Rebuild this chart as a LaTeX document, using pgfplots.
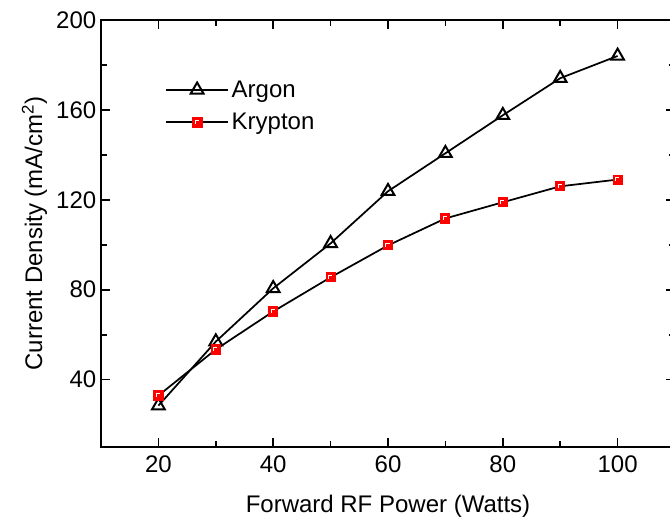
\documentclass[border=0pt]{standalone}
\usepackage{fontspec}
\setmainfont{Liberation Sans}
\usepackage{pgfplots}
\pgfplotsset{compat=1.18}

% red square with the small white corner seen in the reference
\pgfdeclareplotmark{krsq}{%
  \pgfsetfillcolor{red}\pgfsetstrokecolor{red}%
  \pgfpathrectangle{\pgfpoint{-\pgfplotmarksize}{-\pgfplotmarksize}}{\pgfpoint{2\pgfplotmarksize}{2\pgfplotmarksize}}%
  \pgfusepathqfillstroke
  \pgfsetstrokecolor{white}\pgfsetlinewidth{0.7pt}%
  \pgfpathmoveto{\pgfpoint{-0.45\pgfplotmarksize}{-0.3\pgfplotmarksize}}%
  \pgfpathlineto{\pgfpoint{-0.45\pgfplotmarksize}{0.45\pgfplotmarksize}}%
  \pgfpathlineto{\pgfpoint{0.35\pgfplotmarksize}{0.45\pgfplotmarksize}}%
  \pgfusepathqstroke
}

\begin{document}
\begin{tikzpicture}
\begin{axis}[
  scale only axis,
  width=430.5pt, height=320.25pt,
  xmin=10, xmax=110,
  ymin=10, ymax=200,
  xtick={20,40,60,80,100},
  ytick={40,80,120,160,200},
  minor x tick num=1,
  minor y tick num=1,
  tick align=inside,
  major tick length=7pt,
  minor tick length=4.5pt,
  axis line style={line width=1.5pt},
  every tick/.style={black, line width=1.3pt},
  tick label style={font=\fontsize{18}{20}\selectfont},
  xticklabel style={yshift=-3pt},
  /pgf/number format/assume math mode=true,
  label style={font=\fontsize{18}{20}\selectfont},
  xlabel={Forward RF Power (Watts)},
  xlabel style={yshift=-10pt},
  ylabel={Current Density (mA/cm\textsuperscript{2})},
  legend style={draw=none, fill=none, at={(0.1115,0.865)}, anchor=north west,
    font=\fontsize{18}{20}\selectfont, row sep=6.5pt, inner sep=0pt},
  legend cell align=left,
  legend image code/.code={%
    \draw[mark repeat=2,mark phase=2,#1] plot coordinates {(0pt,0pt) (23.25pt,0pt) (46.5pt,0pt)};},
]
\addplot[black, line width=1.3pt, mark=triangle, mark size=5.5pt,
  mark options={solid, line width=1.5pt, fill=white}]
  coordinates {(20,28.4) (30,56.9) (40,80.6) (50,100.6) (60,123.8)
               (70,140.7) (80,157.6) (90,174.1) (100,184)};
\addlegendentry{Argon}
\addplot[black, line width=1.3pt, mark=krsq, mark size=3.4pt]
  coordinates {(20,32.9) (30,53.4) (40,70.3) (50,85.5) (60,99.7)
               (70,111.7) (80,118.9) (90,126) (100,129)};
\addlegendentry{Krypton}
\end{axis}
\pgfresetboundingbox
\useasboundingbox (-75.75pt,-59.25pt) rectangle (426.75pt,335.25pt);
\end{tikzpicture}
\end{document}
